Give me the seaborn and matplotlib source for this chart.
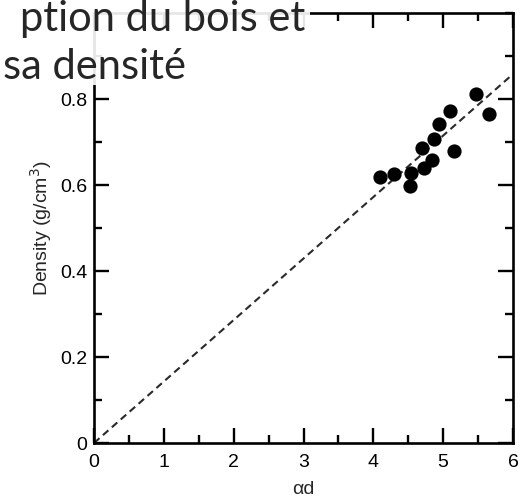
"""
Wood density versus alpha*d, with the slide caption overlaid on the top left.
"""

import matplotlib
matplotlib.use("Agg")
import matplotlib.pyplot as plt
import matplotlib.ticker as mticker
from matplotlib.patches import Rectangle
import pandas as pd
import seaborn as sns

ALPHA_D = [4.10, 4.29, 4.52, 4.54, 4.72, 4.84, 4.69, 4.87, 4.94, 5.10, 5.15, 5.47, 5.65]
DENSITY = [0.619, 0.626, 0.598, 0.627, 0.639, 0.658, 0.686, 0.708, 0.741, 0.772, 0.678, 0.811, 0.766]

# Dashed reference line through the origin
LINE_X = [0.0, 6.0]
LINE_Y = [0.0, 0.858]

X_TICKS = [0, 1, 2, 3, 4, 5, 6]
Y_TICKS = [0, 0.2, 0.4, 0.6, 0.8]
Y_TICK_LABELS = ["0", "0.2", "0.4", "0.6", "0.8"]

CAPTION_LINE1 = "ption du bois et"
CAPTION_LINE2 = "sa densité"

W, H = 526, 497

sns.set_style("ticks")
plt.rcParams["font.family"] = ["Liberation Sans", "DejaVu Sans"]

fig = plt.figure(figsize=(W / 100, H / 100), dpi=100)
ax = fig.add_axes([94 / W, 1 - 443 / H, (513 - 94) / W, (443 - 13) / H])

df = pd.DataFrame({"alpha_d": ALPHA_D, "density": DENSITY})
line_df = pd.DataFrame({"x": LINE_X, "y": LINE_Y})

sns.lineplot(data=line_df, x="x", y="y", ax=ax, color="#2a2a2a",
             linewidth=1.5, linestyle=(0, (3.5, 2.2)), zorder=2)
sns.scatterplot(data=df, x="alpha_d", y="density", ax=ax, color="black",
                s=105, edgecolor="black", linewidth=0, zorder=3)

ax.set_xlim(0, 6)
ax.set_ylim(0, 1.0)
ax.set_xticks(X_TICKS)
ax.set_yticks(Y_TICKS)
ax.set_yticklabels(Y_TICK_LABELS)
ax.xaxis.set_minor_locator(mticker.MultipleLocator(0.5))
ax.yaxis.set_minor_locator(mticker.MultipleLocator(0.1))
ax.tick_params(which="both", direction="in", top=True, right=True,
               width=1.7, colors="black", labelsize=14, pad=5)
ax.tick_params(axis="x", which="major", pad=8)
ax.tick_params(which="major", length=11)
ax.tick_params(which="minor", length=6)
for side in ax.spines.values():
    side.set_visible(True)
    side.set_linewidth(1.9)
    side.set_color("black")

ax.set_xlabel("αd", fontsize=14, labelpad=7)
ax.set_ylabel("Density (g/cm$^3$)", fontsize=14, labelpad=4)

# Slide caption on a nearly opaque white box
fig.patches.append(Rectangle((0, 1 - 85 / H), 310 / W, 85 / H, transform=fig.transFigure,
                             facecolor="white", alpha=0.9, edgecolor="none", zorder=5))
cap_font = ["Lato", "DejaVu Sans"]
fig.text(305 / W, 1 - 31 / H, CAPTION_LINE1, ha="right", va="baseline",
         fontsize=30, family=cap_font, zorder=6)
fig.text(3 / W, 1 - 79 / H, CAPTION_LINE2, ha="left", va="baseline",
         fontsize=30, family=cap_font, zorder=6)

fig.savefig("out.png", dpi=100)
plt.close(fig)
